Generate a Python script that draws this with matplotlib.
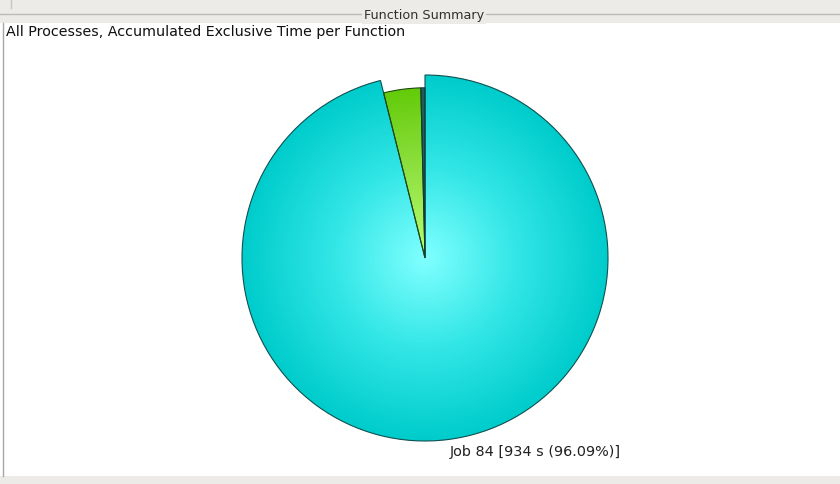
import numpy as np
import matplotlib
matplotlib.use("Agg")
import matplotlib.pyplot as plt
from matplotlib.colors import LinearSegmentedColormap
from matplotlib.patches import Rectangle

# Tiempo exclusivo acumulado por función (s)
funciones = ["Job 84", "Otras", "Resto"]
tiempos = [934.0, 34.2, 3.8]
colores_borde = ["#0f5050", "#1f4a10", "#0f3a3a"]
etiqueta = "Job 84 [934 s (96.09%)]"

W, H = 840, 484
fig = plt.figure(figsize=(W / 100, H / 100), dpi=100)

# Fondo de la ventana en coordenadas de pixel
bg = fig.add_axes([0, 0, 1, 1])
bg.set_xlim(0, W)
bg.set_ylim(H, 0)
bg.axis("off")
bg.add_patch(Rectangle((0, 0), W, 23, color="#edebe7", lw=0))
bg.add_patch(Rectangle((0, 476), W, 8, color="#edebe7", lw=0))
bg.plot([0, W], [14, 14], color="#bdbbb8", lw=1.0)
bg.plot([2.5, 2.5], [23, 476], color="#a8a6a2", lw=1.0)
bg.plot([10.5, 10.5], [0, 8], color="#c8c6c2", lw=1.0)
bg.text(424, 15.5, "Function Summary", ha="center", va="center", fontsize=9.2,
        color="#303030", bbox=dict(facecolor="#edebe7", edgecolor="none", pad=1.5))
bg.text(6, 32, "All Processes, Accumulated Exclusive Time per Function",
        ha="left", va="center", fontsize=10.3, color="#101010")
bg.text(450, 452, etiqueta, ha="left", va="center", fontsize=10.4, color="#202020")

# Ejes del gráfico de tarta
cx, cy, r = 425, 258, 183
ax = fig.add_axes([(cx - r) / W, (H - cy - r) / H, 2 * r / W, 2 * r / H])
wedges, _ = ax.pie(tiempos, startangle=90, counterclock=False, radius=1.0,
                   wedgeprops=dict(linewidth=0.8))
ax.set_xlim(-1, 1)
ax.set_ylim(-1, 1)
ax.set_aspect("equal")
ax.axis("off")

# las porciones pequeñas van un poco mas hacia dentro
wedges[1].set_radius(0.93)
wedges[2].set_radius(0.93)

# degradado radial desde el centro
n = 400
xs = np.linspace(-1, 1, n)
X, Y = np.meshgrid(xs, xs)
R = np.clip(np.sqrt(X ** 2 + Y ** 2), 0, 1)

mapas = [
    LinearSegmentedColormap.from_list("cian", ["#80ffff", "#33e6e6", "#00cccc"]),
    LinearSegmentedColormap.from_list("verde", ["#b8ff70", "#8ee040", "#5cc800"]),
    LinearSegmentedColormap.from_list("oscuro", ["#2a6a6a", "#1e5a5a"]),
]
for w, cmap, ec in zip(wedges, mapas, colores_borde):
    im = ax.imshow(R, cmap=cmap, extent=(-1, 1, -1, 1), origin="lower",
                   vmin=0, vmax=1, zorder=1, interpolation="bilinear")
    im.set_clip_path(w)
    w.set_facecolor("none")
    w.set_edgecolor(ec)
    w.set_zorder(2)

fig.savefig("out.png", dpi=100)
